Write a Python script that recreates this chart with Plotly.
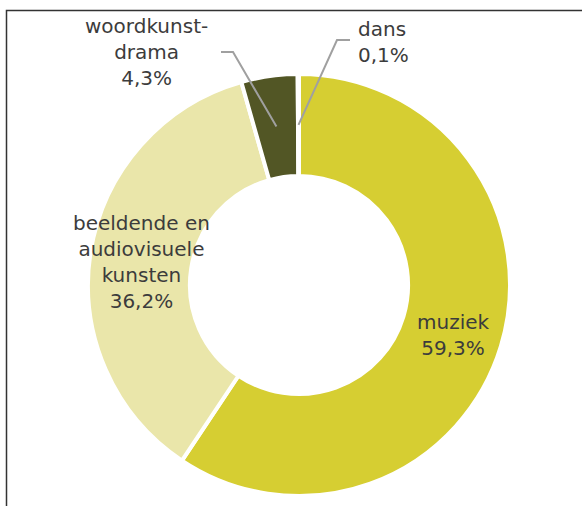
import math
import plotly.graph_objects as go

# Share of subsidised projects per discipline (%)
categories = ["muziek", "beeldende en<br>audiovisuele<br>kunsten", "woordkunst-<br>drama", "dans"]
values = [59.3, 36.2, 4.3, 0.1]
colors = ["#D6CE32", "#EAE6AA", "#525625", "#B8B060"]

W, H = 582, 506
CX, CY, R_OUT, HOLE = 299, 285, 211, 0.517


def px(x, y):
    """Pixel position -> paper coordinates (no margins)."""
    return x / W, 1 - y / H


def fmt(v):
    return f"{v:.1f}".replace(".", ",") + "%"


fig = go.Figure(
    go.Pie(
        labels=categories,
        values=values,
        hole=HOLE,
        sort=False,
        direction="clockwise",
        rotation=0,
        marker=dict(colors=colors, line=dict(color="white", width=4)),
        textinfo="none",
        hoverinfo="label+percent",
        domain=dict(
            x=[(CX - R_OUT) / W, (CX + R_OUT) / W],
            y=[(H - CY - R_OUT) / H, (H - CY + R_OUT) / H],
        ),
        showlegend=False,
    )
)

font = dict(family="DejaVu Sans, Verdana, sans-serif", size=20, color="#3c3c3c")

# label block centres (pixels) and text alignment
label_pos = [(453, 335, "center"), (141, 262, "center"), (146, 52, "center"), (383, 42, "left")]
annotations = []
for cat, v, (lx, ly, al) in zip(categories, values, label_pos):
    x, y = px(lx, ly)
    annotations.append(dict(
        x=x, y=y, xref="paper", yref="paper", showarrow=False,
        text=f"{cat}<br>{fmt(v)}", align=al, font=font,
        xanchor="center", yanchor="middle",
    ))

# leader lines for the two small slices, ending mid-ring at the slice's mid-angle
total = sum(values)
cum = 0
mids = []
for v in values:
    mids.append((cum + v / 2) / total * 360)
    cum += v
r_mid = R_OUT * (1 + HOLE) / 2
shapes = []
leader_elbows = {2: [(221, 52), (233, 52)], 3: [(350, 40), (337, 40)]}
for idx, pts in leader_elbows.items():
    a = math.radians(mids[idx])
    ex, ey = CX + r_mid * math.sin(a), CY - r_mid * math.cos(a)
    path_pts = pts + [(ex, ey)]
    d = "M " + " L ".join(f"{px(x, y)[0]},{px(x, y)[1]}" for x, y in path_pts)
    shapes.append(dict(type="path", path=d, xref="paper", yref="paper",
                       line=dict(color="#A0A0A0", width=2)))

# outer frame
fx0, fy1 = px(6.5, 10.5)
shapes.append(dict(type="rect", xref="paper", yref="paper",
                   x0=fx0, x1=1.2, y0=-0.2, y1=fy1,
                   line=dict(color="#333333", width=1.5), fillcolor="rgba(0,0,0,0)"))

fig.update_layout(
    width=W, height=H,
    margin=dict(l=0, r=0, t=0, b=0),
    paper_bgcolor="white", plot_bgcolor="white",
    annotations=annotations, shapes=shapes,
)

fig.write_html("out.html")
